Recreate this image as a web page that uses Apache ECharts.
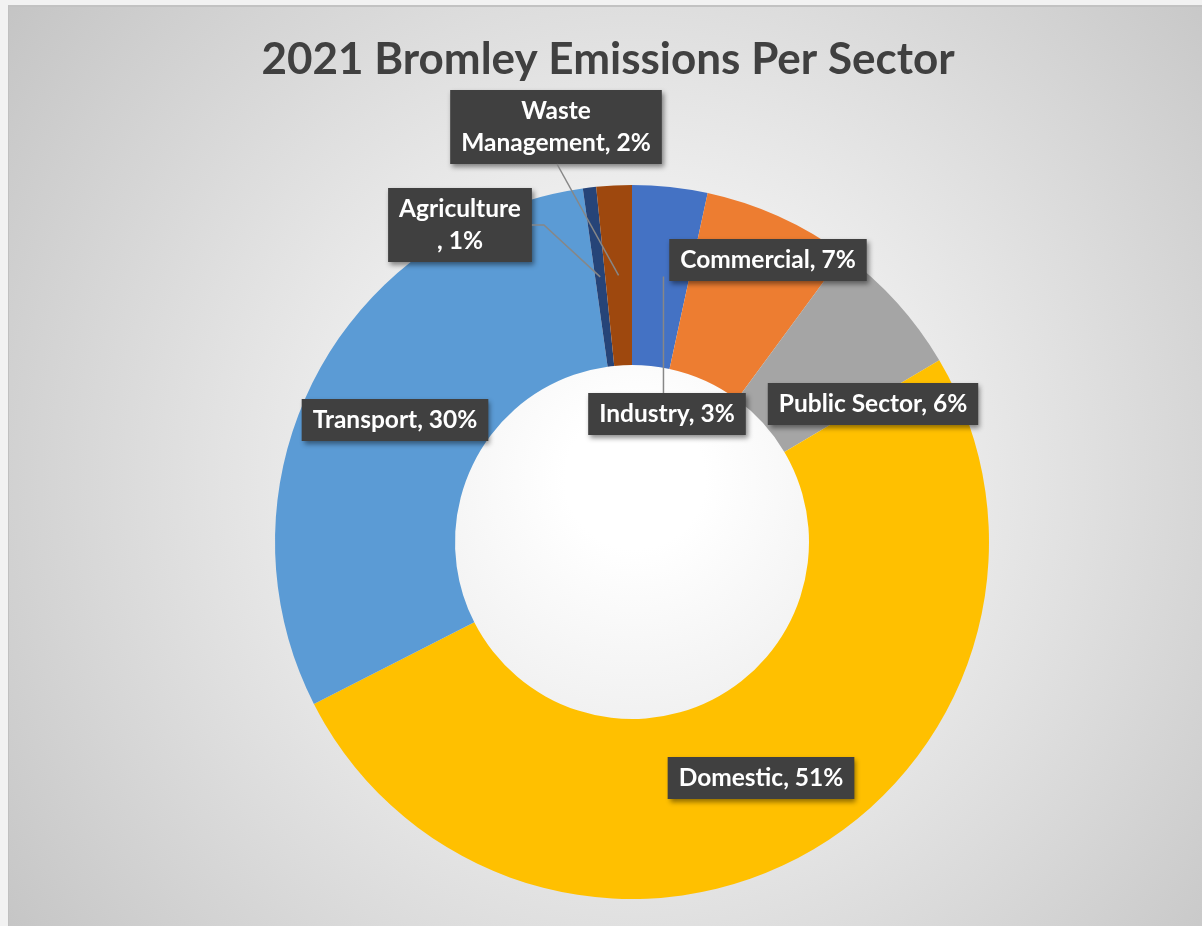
<!DOCTYPE html>
<html><head><meta charset="utf-8">
<script src="https://cdn.jsdelivr.net/npm/echarts@6/dist/echarts.min.js"></script>
<style>
html,body{margin:0;padding:0;width:1202px;height:926px;overflow:hidden;background:#f2f2f2;}
#bg{position:absolute;left:8px;top:5px;width:1194px;height:921px;box-sizing:border-box;border-top:2px solid #c2c2c2;border-left:1px solid #c0c0c0;background:radial-gradient(circle at 626px 472px, #ffffff 0px, #ffffff 70px, #c4c4c4 790px);}
#chart{position:absolute;left:0;top:0;width:1202px;height:926px;}
</style></head><body><div id="bg"></div><div id="chart"></div>
<script>
// ---- data ----
const categories = ['Industry','Commercial','Public Sector','Domestic','Transport','Agriculture','Waste Management'];
const shares = [3.4, 6.7, 6.4, 51.0, 30.3, 0.6, 1.6];
const colors = ['#4472C4','#ED7D31','#A5A5A5','#FFC000','#5B9BD5','#264478','#9E480E'];
const titleText = '2021 Bromley Emissions Per Sector';

// ---- layout (positions only) ----
const CX = 632, CY = 542, R0 = 177, R1 = 357;
const labelCenters = {
  'Industry':[667,414], 'Commercial':[768,260], 'Public Sector':[873,404],
  'Domestic':[761,778], 'Transport':[395,420], 'Agriculture':[460,225],
  'Waste Management':[556,127]
};
const leader = {'Industry':'vertical','Agriculture':'elbow','Waste Management':'straight'};
const wrapAfter = {'Agriculture':'Agriculture\n, ', 'Waste Management':'Waste\nManagement, '};

const total = shares.reduce((a,b)=>a+b,0);
function midPoint(i){
  let cum = 0; for (let k=0;k<i;k++) cum += shares[k];
  const ang = (cum + shares[i]/2)/total*2*Math.PI;
  const r = (R0+R1)/2;
  return [CX + r*Math.sin(ang), CY - r*Math.cos(ang)];
}

const boxSize = {};
const data = categories.map((c,i)=>({
  name:c, value:shares[i], itemStyle:{color:colors[i]}
}));

const chart = echarts.init(document.getElementById('chart'), null, {renderer:'canvas'});
chart.setOption({
  animation:false,
  backgroundColor:'transparent',
  title:{
    text:titleText, left:603, top:33, textAlign:'center',
    textStyle:{fontFamily:'Lato', fontWeight:'bold', fontSize:44, color:'#404040'}
  },
  series:[{
    type:'pie', z:2,
    center:[CX,CY], radius:[R0,R1],
    startAngle:90, clockwise:true,
    avoidLabelOverlap:false,
    data:data,
    itemStyle:{borderWidth:0},
    label:{
      show:true, position:'inside',
      formatter:(p)=>{
        const pct = Math.round(p.percent) + '%';
        return (wrapAfter[p.name] || (p.name + ', ')) + pct;
      },
      color:'#ffffff', fontFamily:'Lato', fontWeight:'bold', fontSize:24.5, lineHeight:32,
      align:'center',
      backgroundColor:'#404040', padding:[5,11],
      shadowColor:'rgba(0,0,0,0.45)', shadowBlur:5, shadowOffsetX:2, shadowOffsetY:3
    },
    labelLine:{show:false},
    labelLayout:function(p){
      const name = categories[p.dataIndex];
      const c = labelCenters[name];
      boxSize[name] = [p.labelRect.width, p.labelRect.height];
      return {x:c[0], y:c[1], align:'center', verticalAlign:'middle'};
    }
  }]
});

// leader lines derived from slice mid-angles and label boxes
const lines = [];
categories.forEach((name,i)=>{
  const kind = leader[name]; if (!kind) return;
  const c = labelCenters[name];
  const s = boxSize[name] || [150,42];
  const w = s[0], h = s[1];
  const m = midPoint(i);
  let pts;
  if (kind === 'vertical') pts = [[m[0]+3, m[1]], [m[0]+3, c[1]-h/2]];
  else if (kind === 'elbow') pts = [[c[0]+w/2, c[1]], [c[0]+w/2+12, c[1]], [m[0], m[1]]];
  else pts = [[c[0]+1, c[1]+h/2], [m[0], m[1]]];
  lines.push({type:'polyline', z:10, silent:true, shape:{points:pts},
    style:{stroke:'#878787', lineWidth:1.5, fill:null}});
});
chart.setOption({graphic:lines});
</script>
</body></html>
